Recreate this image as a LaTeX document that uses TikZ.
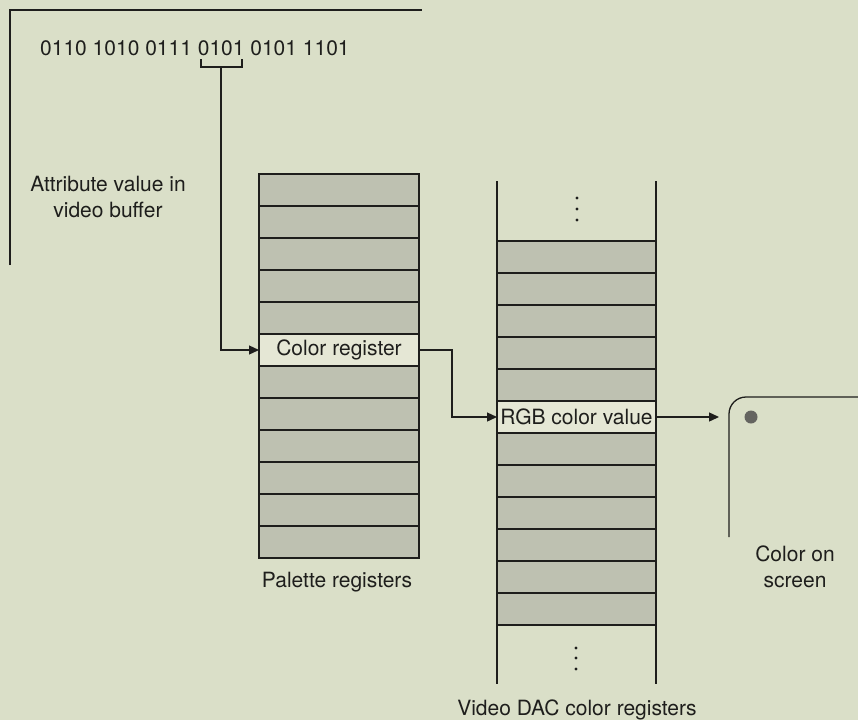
\documentclass[tikz,border=0pt]{standalone}
\usepackage{fontspec}
\setmainfont{TeX Gyre Heros}
\usetikzlibrary{arrows.meta}
\definecolor{bgc}{RGB}{218,223,200}
\definecolor{rowc}{RGB}{190,193,177}
\definecolor{hic}{RGB}{229,231,213}
\definecolor{inkc}{RGB}{30,30,28}
\definecolor{dotc}{RGB}{100,100,96}
\tikzset{
  ink/.style={draw=inkc, line width=1.3pt},
  reg/.style={ink, fill=rowc, minimum width=160pt, minimum height=32pt, inner sep=0pt, outer sep=0pt},
  hireg/.style={reg, fill=hic, text=inkc},
  lbl/.style={text=inkc, inner sep=0pt, font=\fontsize{21}{26}\selectfont},
  arr/.style={ink, -{Triangle[length=10pt,width=9pt]}},
  vdot/.style={fill=inkc, circle, inner sep=0pt, minimum size=3.4pt},
}
\begin{document}
\begin{tikzpicture}[x=1pt,y=-1pt]
\fill[bgc] (0,0) rectangle (858,720);
\useasboundingbox (0,0) rectangle (858,720);

% video buffer frame
\coordinate (fb) at (10,265);
\coordinate (fc) at (10,10);
\coordinate (fr) at (422,10);
\draw[ink] (fb) -- (fc) -- (fr);
\node[lbl, anchor=base west] (bits) at (40,55) {0110 1010 0111 0101 0101 1101};
\coordinate (bl) at (201,59);
\coordinate (br) at (242,59);
\coordinate (bm) at (221,67);
\draw[ink] (bl) -- (201,67) -- (242,67) -- (br);
\node[lbl, align=center, anchor=north] (attr) at (108,176) {Attribute value in\\video buffer};

% palette registers
\foreach \i in {0,...,11}{
  \node[reg] (p\i) at (339,{190+32*\i}) {};
}
\node[hireg, lbl, minimum width=160pt, minimum height=32pt, draw=inkc, line width=1.3pt] (p5) at (339,350) {Color register};
\node[lbl, anchor=base] (plab) at (337,587) {Palette registers};

% video DAC registers
\foreach \i in {0,...,11}{
  \node[reg, minimum width=159pt] (d\i) at (576.5,{257+32*\i}) {};
}
\node[hireg, lbl, minimum width=159pt, minimum height=32pt, draw=inkc, line width=1.3pt] (d5) at (576.5,417) {RGB color value};
\coordinate (dtl) at (497,181);
\coordinate (dtr) at (656,181);
\coordinate (dbl) at (497,684);
\coordinate (dbr) at (656,684);
\draw[ink] (d0.north west) -- (dtl);
\draw[ink] (d0.north east) -- (dtr);
\draw[ink] (d11.south west) -- (dbl);
\draw[ink] (d11.south east) -- (dbr);
\foreach \yy in {198,209,220}{ \node[vdot] at (577,\yy) {}; }
\foreach \yy in {648,658,669}{ \node[vdot] at (576,\yy) {}; }
\node[lbl, anchor=base] (dlab) at (577,715) {Video DAC color registers};

% screen
\coordinate (sb) at (729,537);
\coordinate (sc) at (729,397);
\coordinate (sr) at (860,397);
\draw[ink, rounded corners=17pt] (sb) -- (sc) -- (sr);
\fill[dotc] (751,417) circle (6.5pt);
\coordinate (scr) at (719,417);
\node[lbl, align=center, anchor=north] (slab) at (795,546) {Color on\\screen};

% connectors
\draw[arr] (bm) |- (p5.west);
\coordinate (mid) at (452,350);
\draw[arr] (p5.east) -- (mid) |- (d5.west);
\draw[arr] (d5.east) -- (scr);
\end{tikzpicture}
\end{document}
